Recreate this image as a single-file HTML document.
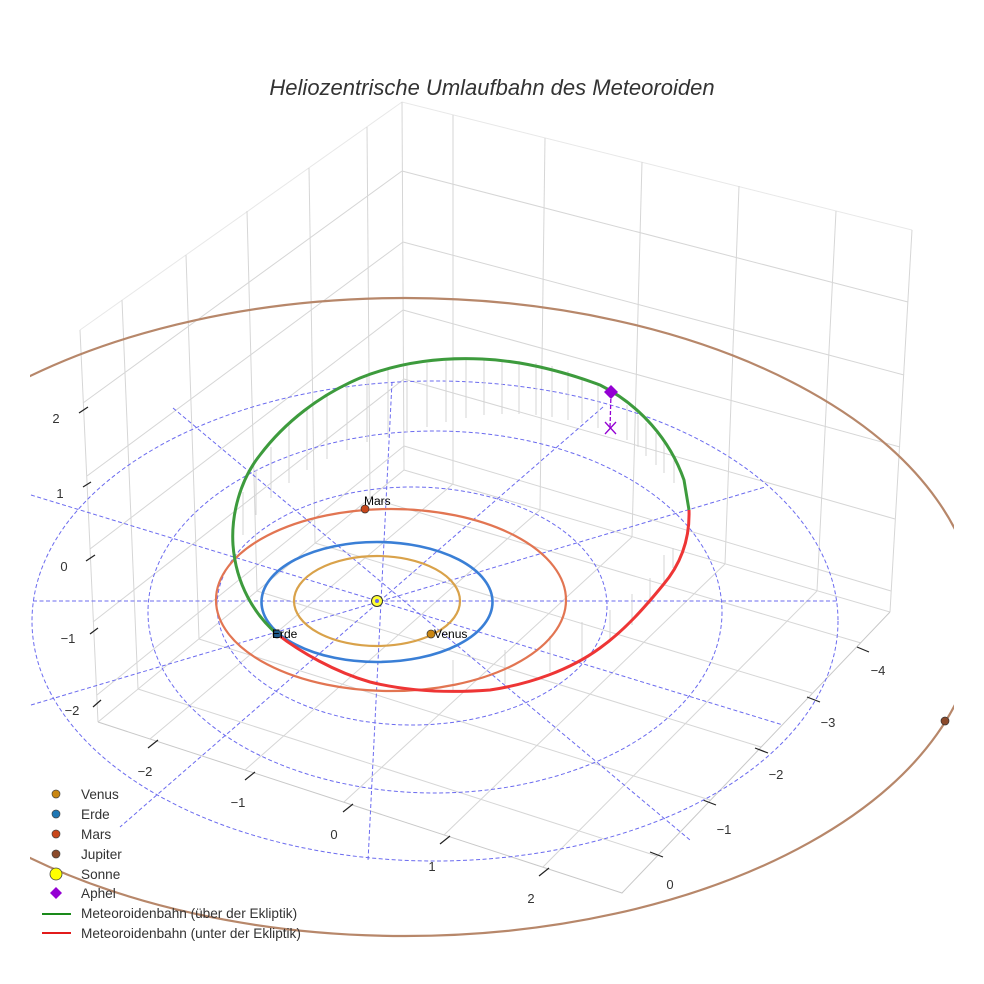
<!DOCTYPE html>
<html><head><meta charset="utf-8"><style>
html,body{margin:0;padding:0;background:#fff;}
svg{display:block;font-family:"Liberation Sans",sans-serif;}
</style></head><body>
<svg width="984" height="984" viewBox="0 0 984 984" xmlns="http://www.w3.org/2000/svg">
<rect width="984" height="984" fill="#fff"/>
<text x="492" y="95" text-anchor="middle" font-size="22" font-style="italic" fill="#333">Heliozentrische Umlaufbahn des Meteoroiden</text>

<g stroke="#d6d6d6" stroke-width="1" fill="none">
<path d="M80,330 L402,102 L912,230" stroke="#e8e8e8"/>
<line x1="80" y1="330" x2="98" y2="722"/>
<line x1="122" y1="300" x2="138" y2="689"/>
<line x1="186" y1="255" x2="199" y2="639"/>
<line x1="247" y1="211" x2="257" y2="591"/>
<line x1="309" y1="168" x2="315" y2="543"/>
<line x1="367" y1="127" x2="370" y2="498"/>
<line x1="402" y1="102" x2="404" y2="470"/>
<line x1="83" y1="403" x2="402" y2="171"/>
<line x1="87" y1="476" x2="403" y2="242"/>
<line x1="90" y1="549" x2="403" y2="310"/>
<line x1="93" y1="622" x2="404" y2="379"/>
<line x1="97" y1="695" x2="404" y2="446"/>
<line x1="453" y1="115" x2="453" y2="484"/>
<line x1="545" y1="138" x2="540" y2="510"/>
<line x1="642" y1="162" x2="632" y2="537"/>
<line x1="739" y1="186" x2="725" y2="564"/>
<line x1="836" y1="211" x2="817" y2="591"/>
<line x1="912" y1="230" x2="890" y2="612"/>
<line x1="402" y1="171" x2="908" y2="302"/>
<line x1="403" y1="242" x2="904" y2="375"/>
<line x1="403" y1="310" x2="900" y2="447"/>
<line x1="404" y1="379" x2="895" y2="519"/>
<line x1="404" y1="446" x2="891" y2="591"/>
<line x1="98" y1="722" x2="404" y2="470"/>
<line x1="404" y1="470" x2="890" y2="612"/>
<line x1="138" y1="689" x2="657" y2="856"/>
<line x1="199" y1="639" x2="710" y2="800"/>
<line x1="257" y1="591" x2="761" y2="747"/>
<line x1="315" y1="543" x2="812" y2="693"/>
<line x1="370" y1="498" x2="861" y2="643"/>
<line x1="453" y1="484" x2="150" y2="739"/>
<line x1="540" y1="510" x2="245" y2="770"/>
<line x1="632" y1="537" x2="344" y2="802"/>
<line x1="725" y1="564" x2="444" y2="835"/>
<line x1="817" y1="591" x2="543" y2="867"/>
<path d="M98,722 L622,893 L890,612" stroke="#c8c8c8"/>
</g>

<g stroke="#222" stroke-width="1.2">
<line x1="79" y1="413" x2="88" y2="407"/>
<line x1="83" y1="487" x2="91" y2="482"/>
<line x1="86" y1="561" x2="95" y2="555"/>
<line x1="90" y1="634" x2="98" y2="628"/>
<line x1="93" y1="707" x2="101" y2="700"/>
<line x1="857" y1="647" x2="869" y2="652"/>
<line x1="807" y1="697" x2="820" y2="702"/>
<line x1="755" y1="748" x2="768" y2="753"/>
<line x1="703" y1="800" x2="716" y2="805"/>
<line x1="650" y1="852" x2="663" y2="857"/>
<line x1="148" y1="748" x2="158" y2="740"/>
<line x1="245" y1="780" x2="255" y2="772"/>
<line x1="343" y1="812" x2="353" y2="804"/>
<line x1="440" y1="844" x2="450" y2="836"/>
<line x1="539" y1="876" x2="549" y2="868"/>
</g>
<g font-size="13" fill="#333" text-anchor="middle">
<text x="56" y="423">2</text><text x="60" y="498">1</text><text x="64" y="571">0</text><text x="68" y="643">−1</text><text x="72" y="715">−2</text>
<text x="878" y="675">−4</text><text x="828" y="727">−3</text><text x="776" y="779">−2</text><text x="724" y="834">−1</text><text x="670" y="889">0</text>
<text x="145" y="776">−2</text><text x="238" y="807">−1</text><text x="334" y="839">0</text><text x="432" y="871">1</text><text x="531" y="903">2</text>
</g>

<g stroke="#6b6bef" stroke-width="1" stroke-dasharray="4,2.5" fill="none">
<ellipse cx="412" cy="606" rx="195" ry="119"/>
<ellipse cx="435" cy="612" rx="287" ry="181"/>
<ellipse cx="435" cy="621" rx="403" ry="240"/>
<line x1="33" y1="601" x2="838" y2="601"/>
<line x1="392" y1="382" x2="368" y2="861"/>
<line x1="31" y1="495" x2="783" y2="725"/>
<line x1="31" y1="705" x2="765" y2="487"/>
<line x1="173" y1="408" x2="690" y2="840"/>
<line x1="603" y1="407" x2="120" y2="827"/>
</g>

<clipPath id="c"><rect x="30" y="0" width="924" height="984"/></clipPath>
<ellipse cx="405" cy="617" rx="572" ry="319" fill="none" stroke="#b7876a" stroke-width="2.2" clip-path="url(#c)"/>

<g stroke="#d4d4d4" stroke-width="1">
<line x1="243" y1="492" x2="243" y2="535"/><line x1="256" y1="470" x2="256" y2="515"/><line x1="271" y1="447" x2="271" y2="498"/><line x1="289" y1="425" x2="289" y2="483"/><line x1="307" y1="410" x2="307" y2="470"/><line x1="327" y1="396" x2="327" y2="459"/><line x1="347" y1="385" x2="347" y2="450"/><line x1="367" y1="377" x2="367" y2="442"/><line x1="388" y1="370" x2="388" y2="437"/><line x1="407" y1="366" x2="407" y2="432"/><line x1="427" y1="363" x2="427" y2="427"/><line x1="446" y1="361" x2="446" y2="422"/><line x1="466" y1="360" x2="466" y2="418"/><line x1="484" y1="359" x2="484" y2="415"/><line x1="502" y1="360" x2="502" y2="414"/><line x1="519" y1="361" x2="519" y2="414"/><line x1="536" y1="363" x2="536" y2="415"/><line x1="552" y1="366" x2="552" y2="417"/><line x1="568" y1="371" x2="568" y2="420"/><line x1="582" y1="377" x2="582" y2="423"/><line x1="598" y1="384" x2="598" y2="428"/><line x1="627" y1="405" x2="627" y2="440"/><line x1="638" y1="415" x2="638" y2="447"/><line x1="646" y1="423" x2="646" y2="456"/><line x1="656" y1="433" x2="656" y2="465"/><line x1="664" y1="443" x2="664" y2="473"/><line x1="674" y1="458" x2="674" y2="483"/>
<line x1="673" y1="548" x2="673" y2="568"/><line x1="664" y1="555" x2="664" y2="585"/><line x1="650" y1="578" x2="650" y2="604"/><line x1="632" y1="594" x2="632" y2="625"/><line x1="610" y1="610" x2="610" y2="642"/><line x1="582" y1="622" x2="582" y2="658"/><line x1="550" y1="636" x2="550" y2="672"/><line x1="505" y1="650" x2="505" y2="684"/><line x1="453" y1="660" x2="453" y2="690"/>
</g>

<ellipse cx="377" cy="601" rx="83" ry="45" fill="none" stroke="#d9a24a" stroke-width="2.2"/>
<ellipse cx="377" cy="602" rx="115.5" ry="60" fill="none" stroke="#3a7fd6" stroke-width="2.6"/>
<ellipse cx="391" cy="600" rx="175" ry="91" fill="none" stroke="#e27552" stroke-width="2.2"/>

<path d="M277,634 C255,615 236,585 233,545 C231,515 240,480 260,455 C285,422 320,395 360,378 C400,362 440,357 482,359 C525,361 565,372 600,385 C640,405 670,440 684,480 L689,510" fill="none" stroke="#3d9b3d" stroke-width="3"/>
<path d="M689,510 C690,540 680,565 663,585 C645,607 625,630 600,648 C570,670 530,684 490,690 C450,693 410,692 370,682 C335,672 300,652 277,634" fill="none" stroke="#ee3535" stroke-width="3"/>

<line x1="611" y1="393" x2="610" y2="428" stroke="#9400d3" stroke-width="1.3" stroke-dasharray="4,2"/>
<path d="M605,422 L616,434 M616,422 L605,434" stroke="#9400d3" stroke-width="1.3"/>
<path d="M611,385 L618,392 L611,399 L604,392 Z" fill="#9400d3"/>

<circle cx="377" cy="601" r="5.5" fill="#ffff33" stroke="#333" stroke-width="1"/>
<circle cx="377" cy="601" r="2" fill="#6a6aee"/>
<circle cx="365" cy="509" r="4" fill="#c8471b" stroke="#333" stroke-width="0.7"/>
<circle cx="431" cy="634" r="4" fill="#c98612" stroke="#333" stroke-width="0.7"/>
<circle cx="277" cy="634" r="4" fill="#1f5a8a" stroke="#333" stroke-width="0.7"/>
<circle cx="945" cy="721" r="4" fill="#8b4a2b" stroke="#333" stroke-width="0.7"/>
<g font-size="12" fill="#000">
<text x="364" y="505">Mars</text>
<text x="434" y="638">Venus</text>
<text x="272" y="638">Erde</text>
</g>

<g font-size="13.6" fill="#333">
<circle cx="56" cy="794" r="4" fill="#c98612" stroke="#444" stroke-width="0.7"/><text x="81" y="799">Venus</text>
<circle cx="56" cy="814" r="4" fill="#1f77b4" stroke="#444" stroke-width="0.7"/><text x="81" y="819">Erde</text>
<circle cx="56" cy="834" r="4" fill="#c8471b" stroke="#444" stroke-width="0.7"/><text x="81" y="839">Mars</text>
<circle cx="56" cy="854" r="4" fill="#8b4a2b" stroke="#444" stroke-width="0.7"/><text x="81" y="859">Jupiter</text>
<circle cx="56" cy="874" r="6" fill="#ffff00" stroke="#444" stroke-width="0.8"/><text x="81" y="879">Sonne</text>
<path d="M56,887 L62,893 L56,899 L50,893 Z" fill="#9400d3"/><text x="81" y="898">Aphel</text>
<line x1="42" y1="914" x2="71" y2="914" stroke="#1a8a1a" stroke-width="2"/><text x="81" y="918">Meteoroidenbahn (über der Ekliptik)</text>
<line x1="42" y1="933" x2="71" y2="933" stroke="#e21b1b" stroke-width="2"/><text x="81" y="938">Meteoroidenbahn (unter der Ekliptik)</text>
</g>
</svg>
</body></html>
